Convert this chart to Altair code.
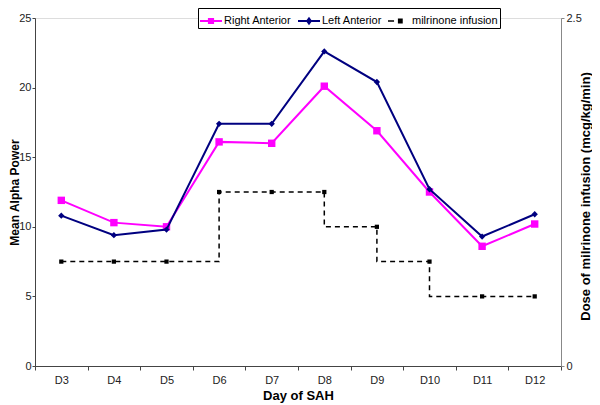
import altair as alt
import pandas as pd

days = ["D3", "D4", "D5", "D6", "D7", "D8", "D9", "D10", "D11", "D12"]
right_anterior = [11.9, 10.3, 10.0, 16.1, 16.0, 20.1, 16.9, 12.5, 8.6, 10.2]
left_anterior = [10.8, 9.4, 9.8, 17.4, 17.4, 22.6, 20.4, 12.7, 9.3, 10.9]
milrinone = [0.75, 0.75, 0.75, 1.25, 1.25, 1.25, 1.0, 0.75, 0.5, 0.5]

series_names = ["Right Anterior", "Left Anterior", "milrinone infusion"]
series_colors = ["#FF00FF", "#000080", "#000000"]
legend_shapes = [
    "M-1,-0.09H1V0.09H-1Z M-0.28,-0.28H0.28V0.28H-0.28Z",
    "M-1,-0.09H1V0.09H-1Z M0,-0.38L0.28,0L0,0.38L-0.28,0Z",
    "M-1,-0.07H-0.45V0.07H-1Z M-0.1,-0.22H0.34V0.22H-0.1Z",
]

FONT = "Liberation Sans"

ra_df = pd.DataFrame({"day": days, "value": right_anterior})
la_df = pd.DataFrame({"day": days, "value": left_anterior})
mil_df = pd.DataFrame({"day": days, "dose": milrinone})

# step path for the dashed infusion line (horizontal at the lower dose of neighbours)
step_day, step_val = [days[0]], [milrinone[0]]
for i in range(len(days) - 1):
    lvl = min(milrinone[i], milrinone[i + 1])
    if milrinone[i] > lvl:
        step_day.append(days[i]); step_val.append(lvl)
    step_day.append(days[i + 1]); step_val.append(lvl)
    if milrinone[i + 1] > lvl:
        step_day.append(days[i + 1]); step_val.append(milrinone[i + 1])
step_df = pd.DataFrame({"day": step_day, "dose": step_val, "idx": list(range(len(step_day)))})

legend_df = pd.DataFrame({"series": series_names})

x_enc = alt.X(
    "day:N", sort=days,
    scale=alt.Scale(type="band", paddingInner=0, paddingOuter=0),
    axis=alt.Axis(
        title="Day of SAH", labelAngle=0, tickBand="extent", tickSize=4,
        labelFont=FONT, labelFontSize=11, labelColor="#222", labelPadding=4,
        titleFont=FONT, titleFontSize=13, titleFontWeight="bold", titleColor="#000",
        titlePadding=4, domainColor="#444", tickColor="#444",
    ),
)

y_left = alt.Y(
    "value:Q", scale=alt.Scale(domain=[0, 25], nice=False),
    axis=alt.Axis(
        values=[0, 5, 10, 15, 20, 25], grid=False, title="Mean Alpha Power",
        tickSize=3, labelPadding=1, labelFont=FONT, labelFontSize=11, labelColor="#222",
        titleFont=FONT, titleFontSize=12, titleFontWeight="bold", titleColor="#000",
        titleAngle=-90, titleBaseline="bottom", titleX=-14, titleY=174, titleAlign="center",
        domainColor="#444", tickColor="#444",
    ),
)

y_right_axis = alt.Axis(
    orient="right", values=[0, 2.5], labelExpr="datum.value", grid=False,
    title="Dose of milrinone infusion (mcg/kg/min)",
    tickSize=3, labelPadding=2, labelFont=FONT, labelFontSize=11, labelColor="#222",
    titleFont=FONT, titleFontSize=13, titleFontWeight="bold", titleColor="#000",
    titleAngle=-90, titleBaseline="top", titleX=18, titleY=178, titleAlign="center",
    domainColor="#888", tickColor="#888",
)

ra_line = alt.Chart(ra_df).mark_line(color="#FF00FF", strokeWidth=2).encode(x=x_enc, y=y_left)
ra_pts = alt.Chart(ra_df).mark_point(shape="square", filled=True, color="#FF00FF", size=55, opacity=1).encode(x=x_enc, y=y_left)
la_line = alt.Chart(la_df).mark_line(color="#000080", strokeWidth=2).encode(x=x_enc, y=y_left)
la_pts = alt.Chart(la_df).mark_point(shape="diamond", filled=True, color="#000080", size=40, opacity=1).encode(x=x_enc, y=y_left)

left = alt.layer(ra_line, ra_pts, la_line, la_pts)

y_right = alt.Y("dose:Q", scale=alt.Scale(domain=[0, 2.5], nice=False), axis=y_right_axis)
mil_line = alt.Chart(step_df).mark_line(color="#000000", strokeWidth=1.5, strokeDash=[5, 4]).encode(
    x=x_enc, y=y_right, order=alt.Order("idx:Q"))
mil_pts = alt.Chart(mil_df).mark_point(shape="square", filled=True, color="#000000", size=18, opacity=1).encode(
    x=x_enc, y=y_right)
right = alt.layer(mil_line, mil_pts)

legend_layer = alt.Chart(legend_df).mark_point(filled=True, opacity=1, clip=True).encode(
    x=alt.value(-1000), y=alt.value(-1000),
    color=alt.Color("series:N", sort=series_names,
                    scale=alt.Scale(domain=series_names, range=series_colors),
                    legend=alt.Legend(
                        title=None, orient="none", legendX=163, legendY=-10, direction="horizontal",
                        symbolSize=484, labelFont=FONT, labelFontSize=11, labelColor="#000",
                        strokeColor="#000", fillColor="#fff", padding=2, columnPadding=6,
                        labelOffset=2, symbolOffset=0, symbolStrokeWidth=0)),
    shape=alt.Shape("series:N", sort=series_names,
                    scale=alt.Scale(domain=series_names, range=legend_shapes), legend=None),
)

chart = alt.layer(left, right, legend_layer).resolve_scale(y="independent").properties(
    width=526, height=348,
    autosize=alt.AutoSizeParams(type="none"),
    padding={"left": 27, "top": 10, "right": 31, "bottom": 40},
).configure_view(stroke=None).configure(background="white")

chart.save("out.html", embed_options={"renderer": "svg", "actions": False})
